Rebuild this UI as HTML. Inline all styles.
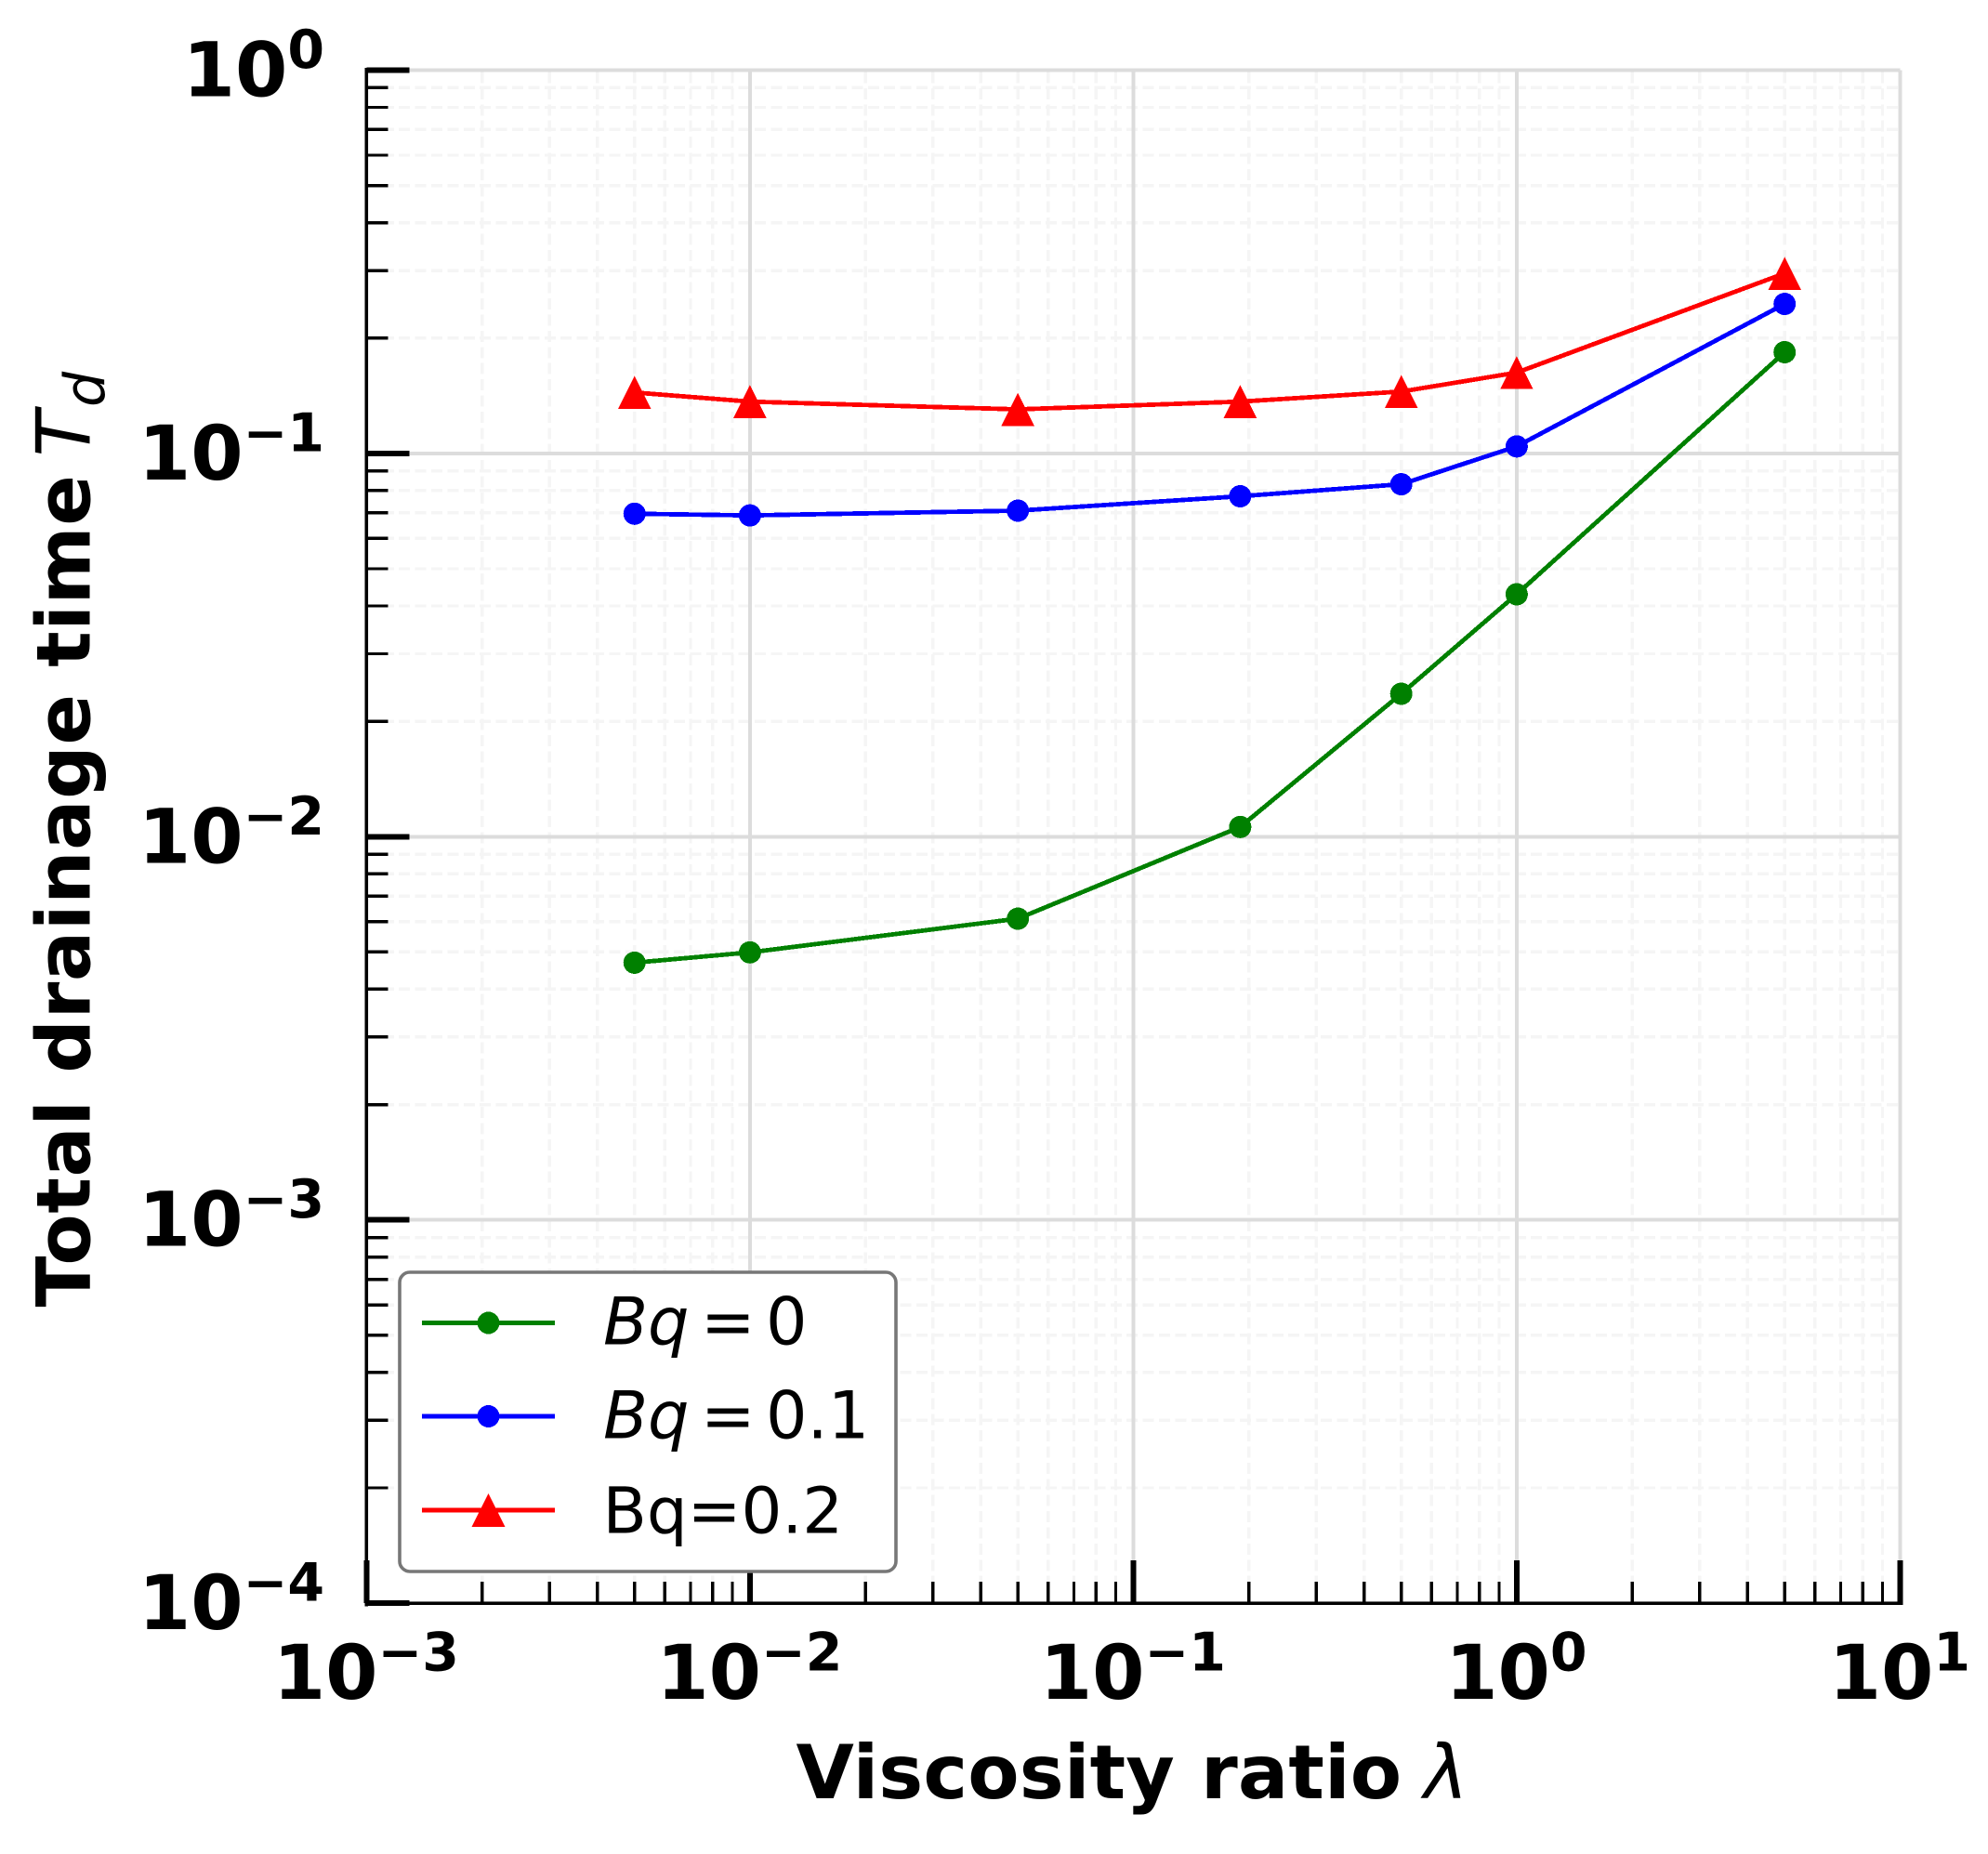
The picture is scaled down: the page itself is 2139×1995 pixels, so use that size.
<!DOCTYPE html>
<html lang="en">
<head>
<meta charset="utf-8">
<title>Total drainage time vs viscosity ratio</title>
<style>
html,body{margin:0;padding:0;background:#fff;}
svg{display:block;}
text{font-family:"DejaVu Sans","Liberation Sans",sans-serif;fill:#000;}
</style>
</head>
<body>
<svg id="chart" xmlns="http://www.w3.org/2000/svg" width="2139" height="1995" viewBox="0 0 2139 1995" shape-rendering="crispEdges">
  <rect x="0" y="0" width="2139" height="1995" fill="#fff"/>
  <g id="grid-minor"></g>
  <g id="grid-major"></g>
  <g id="series"></g>
  <g id="axes"></g>
  <g id="legend"></g>
  <g>
    <text x="856.5" y="1935" font-size="80.6" font-weight="700" textLength="651.6" lengthAdjust="spacing">Viscosity ratio</text>
    <text x="1532" y="1935" font-size="80.6" font-style="italic">λ</text>
  </g>
  <g>
    <text transform="translate(96.7,1406.5) rotate(-90)" x="0" y="0" font-size="80.6" font-weight="700" textLength="895.4" lengthAdjust="spacing">Total drainage time</text>
    <text transform="translate(96.7,491.5) rotate(-90)" x="0" y="0" font-size="80.6" font-style="italic">T</text>
    <text transform="translate(112,438) rotate(-90)" x="0" y="0" font-size="60" font-style="italic">d</text>
  </g>
</svg>
<script>
var categories = [0.005, 0.01, 0.05, 0.19, 0.5, 1, 5];
var seriesBq0 = [0.00469, 0.00499, 0.00611, 0.0106, 0.0236, 0.0429, 0.1837];
var seriesBq01 = [0.0696, 0.0689, 0.0709, 0.0773, 0.0831, 0.1043, 0.2455];
var seriesBq02 = [0.1442, 0.1365, 0.1303, 0.1365, 0.145, 0.1625, 0.295];
var xTickExponents = [-3, -2, -1, 0, 1];
var yTickExponents = [-4, -3, -2, -1, 0];
var minorMultipliers = [2, 3, 4, 5, 6, 7, 8, 9];

var NS = 'http://www.w3.org/2000/svg';
var X0 = 394.4, XDEC = 412.5, XMIN = -3, XMAX = 1;
var Y0 = 75.5, YDEC = 412.4, YMIN = -4, YMAX = 0;
var LEFT = X0, RIGHT = X0 + XDEC * (XMAX - XMIN), TOP = Y0, BOTTOM = Y0 + YDEC * (YMAX - YMIN);

function xScale(v) { return X0 + (Math.log10(v) - XMIN) * XDEC; }
function yScale(v) { return Y0 + (YMAX - Math.log10(v)) * YDEC; }

function make(tag, attrs, parent) {
  var el = document.createElementNS(NS, tag);
  for (var k in attrs) el.setAttribute(k, attrs[k]);
  parent.appendChild(el);
  return el;
}
function gridLine(parent, x1, y1, x2, y2, major) {
  var el = make('line', {x1: x1, y1: y1, x2: x2, y2: y2, stroke: major ? '#dcdcdc' : '#f5f5f5', 'stroke-width': major ? 4 : 3.4, 'stroke-dasharray': major ? 'none' : '12 5.4'}, parent);
  
  
}
function tick(parent, x1, y1, x2, y2, major) {
  var el = make('line', {x1: x1, y1: y1, x2: x2, y2: y2, stroke: '#000', 'stroke-width': major ? 6 : 3.4}, parent);
  
  
}
function tickLabel(parent, x, y, anchor, exponent) {
  var t = make('text', {x: x, y: y, 'text-anchor': anchor, 'font-size': 81, 'font-weight': 700}, parent);
  
  
  t.appendChild(document.createTextNode('10'));
  var s = make('tspan', {'font-size': 57, dy: -30.5}, t);
  s.textContent = String(exponent).replace('-', '\u2212');
}

var gMinor = document.getElementById('grid-minor');
var gMajor = document.getElementById('grid-major');
var gAxes = document.getElementById('axes');
var gSeries = document.getElementById('series');
var gLegend = document.getElementById('legend');

/* minor grid and ticks */
xTickExponents.slice(0, -1).forEach(function (e) {
  minorMultipliers.forEach(function (m) {
    var x = xScale(m * Math.pow(10, e));
    gridLine(gMinor, x, BOTTOM, x, TOP, false);
    tick(gAxes, x, BOTTOM, x, BOTTOM - 23, false);
  });
});
yTickExponents.slice(0, -1).forEach(function (e) {
  minorMultipliers.forEach(function (m) {
    var y = yScale(m * Math.pow(10, e));
    gridLine(gMinor, LEFT, y, RIGHT, y, false);
    tick(gAxes, LEFT, y, LEFT + 23, y, false);
  });
});

/* major grid, ticks, labels */
xTickExponents.forEach(function (e) {
  var x = xScale(Math.pow(10, e));
  gridLine(gMajor, x, BOTTOM, x, TOP, true);
  tick(gAxes, x, BOTTOM, x, BOTTOM - 46, true);
  tickLabel(gAxes, x - 0.5, 1828, 'middle', e);
});
yTickExponents.forEach(function (e) {
  var y = yScale(Math.pow(10, e));
  gridLine(gMajor, LEFT, y, RIGHT, y, true);
  tick(gAxes, LEFT, y, LEFT + 46, y, true);
  tickLabel(gAxes, 349, y + 28, 'end', e);
});

/* spines */
var leftSpine = make('line', {x1: LEFT, y1: TOP - 1, x2: LEFT, y2: BOTTOM + 1.6, stroke: '#000', 'stroke-width': 3.4, 'stroke-linecap': 'square'}, gAxes);


var bottomSpine = make('line', {x1: LEFT, y1: BOTTOM, x2: RIGHT + 1.6, y2: BOTTOM, stroke: '#000', 'stroke-width': 3.4, 'stroke-linecap': 'square'}, gAxes);



/* series */
function triangle(cx, cy, half) {
  return (cx) + ',' + (cy - half) + ' ' + (cx - half) + ',' + (cy + half) + ' ' + (cx + half) + ',' + (cy + half);
}
function marker(parent, shape, cx, cy, color) {
  var el;
  if (shape === 'circle') {
    el = make('circle', {cx: cx, cy: cy, r: 12, fill: color}, parent);
  } else {
    el = make('polygon', {points: triangle(cx, cy, 17.8), fill: color}, parent);
  }
  
  
}
function drawSeries(name, values, color, shape) {
  var g = make('g', {}, gSeries);
  
  
  var pts = values.map(function (v, i) { return xScale(categories[i]) + ',' + yScale(v); }).join(' ');
  var line = make('polyline', {points: pts, fill: 'none', stroke: color, 'stroke-width': 4.8, 'stroke-linejoin': 'round'}, g);
  
  
  values.forEach(function (v, i) { marker(g, shape, xScale(categories[i]), yScale(v), color); });
}
drawSeries('series-bq-0', seriesBq0, '#008000', 'circle');
drawSeries('series-bq-0-1', seriesBq01, '#0000ff', 'circle');
drawSeries('series-bq-0-2', seriesBq02, '#ff0000', 'triangle');

/* legend */
var box = make('rect', {x: 430, y: 1369, width: 534, height: 322, rx: 11, ry: 11, fill: '#fff', stroke: '#777', 'stroke-width': 3.6, 'shape-rendering': 'auto'}, gLegend);


function legendEntry(y, color, shape, name) {
  var g = make('g', {}, gLegend);
  
  
  make('line', {x1: 454, y1: y, x2: 597, y2: y, stroke: color, 'stroke-width': 4.8}, g);
  marker(g, shape, 525.5, y, color);
  return g;
}
var e1 = legendEntry(1423.5, '#008000', 'circle', 'legend-entry-bq-0');
var e2 = legendEntry(1524, '#0000ff', 'circle', 'legend-entry-bq-0-1');
var e3 = legendEntry(1625, '#ff0000', 'triangle', 'legend-entry-bq-0-2');
function mathLabel(g, y, value) {
  var t = make('text', {x: 649, y: y, 'font-size': 70}, g);
  var it = make('tspan', {'font-style': 'italic'}, t);
  it.textContent = 'Bq';
  var eq = make('tspan', {x: 754}, t);
  eq.textContent = '=';
  var val = make('tspan', {x: 824}, t);
  val.textContent = value;
}
mathLabel(e1, 1446.5, '0');
mathLabel(e2, 1547.5, '0.1');
var plain = make('text', {x: 648.5, y: 1649.5, 'font-size': 69}, e3);
plain.textContent = 'Bq=0.2';
</script>
</body>
</html>
